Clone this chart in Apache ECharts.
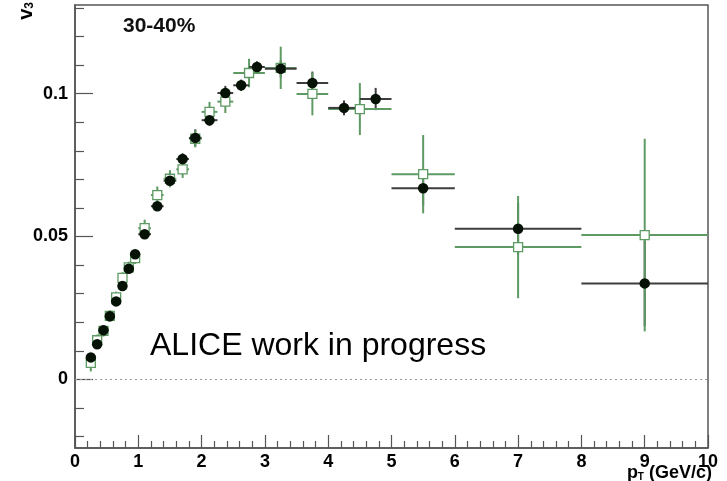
<!DOCTYPE html>
<html>
<head>
<meta charset="utf-8">
<script src="https://cdn.jsdelivr.net/npm/echarts@6/dist/echarts.min.js"></script>
<style>html,body{margin:0;padding:0;background:#fff;}#c{width:727px;height:481px;}</style>
</head>
<body>
<div id="c"></div>
<script>
// Black filled circles
var ptC  = [0.25,0.35,0.45,0.55,0.65,0.75,0.85,0.95,1.1,1.3,1.5,1.7,1.9,2.125,2.375,2.625,2.875,3.25,3.75,4.25,4.75,5.5,7.0,9.0];
var loC  = [0.2,0.3,0.4,0.5,0.6,0.7,0.8,0.9,1.0,1.2,1.4,1.6,1.8,2.0,2.25,2.5,2.75,3.0,3.5,4.0,4.5,5.0,6.0,8.0];
var hiC  = [0.3,0.4,0.5,0.6,0.7,0.8,0.9,1.0,1.2,1.4,1.6,1.8,2.0,2.25,2.5,2.75,3.0,3.5,4.0,4.5,5.0,6.0,8.0,10.0];
var v3C  = [0.0077,0.0123,0.0172,0.0221,0.0273,0.0327,0.0387,0.0438,0.0508,0.0606,0.0695,0.0771,0.0845,0.0907,0.1002,0.1029,0.1093,0.1087,0.1037,0.0950,0.0981,0.0669,0.0527,0.0336];
var errC = [0.001,0.001,0.001,0.001,0.001,0.001,0.001,0.001,0.0015,0.0015,0.0015,0.002,0.003,0.002,0.0025,0.002,0.002,0.003,0.004,0.0026,0.0039,0.006,0.009,0.015];

// Open green squares
var ptS  = [0.25,0.35,0.45,0.55,0.65,0.75,0.85,0.95,1.1,1.3,1.5,1.7,1.9,2.125,2.375,2.75,3.25,3.75,4.5,5.5,7.0,9.0];
var loS  = [0.2,0.3,0.4,0.5,0.6,0.7,0.8,0.9,1.0,1.2,1.4,1.6,1.8,2.0,2.25,2.5,3.0,3.5,4.0,5.0,6.0,8.0];
var hiS  = [0.3,0.4,0.5,0.6,0.7,0.8,0.9,1.0,1.2,1.4,1.6,1.8,2.0,2.25,2.5,3.0,3.5,4.0,5.0,6.0,8.0,10.0];
var v3S  = [0.0058,0.0137,0.0170,0.0222,0.0287,0.0355,0.0392,0.0424,0.0529,0.0645,0.0702,0.0735,0.0842,0.0936,0.0972,0.1072,0.1090,0.0999,0.0946,0.0718,0.0463,0.0505];
var errS = [0.003,0.002,0.002,0.002,0.002,0.002,0.002,0.002,0.003,0.003,0.003,0.003,0.003,0.0035,0.004,0.005,0.0074,0.0075,0.0091,0.0137,0.0179,0.0337];

var xTicks = [0,1,2,3,4,5,6,7,8,9,10];
var yMajor = [0,0.05,0.1];
var yMinor = [-0.02,-0.01,0.01,0.02,0.03,0.04,0.06,0.07,0.08,0.09,0.11,0.12,0.13];

var GREEN = '#5e9a63';
var DARK = '#3d3d3d';
var FONT = 'Liberation Sans, Arial, Helvetica, sans-serif';

function rows(pt, lo, hi, v, e){
  return pt.map(function(p,i){ return [p, v[i], lo[i], hi[i], e[i]]; });
}
function errRender(color, doH, doV){
  return function(params, api){
    var x = api.value(0), y = api.value(1), xl = api.value(2), xh = api.value(3), ye = api.value(4);
    var a = api.coord([xl, y]), b = api.coord([xh, y]);
    var c = api.coord([x, y - ye]), d = api.coord([x, y + ye]);
    var st = {stroke: color, lineWidth: 2};
    var ch = [];
    if (doH) ch.push({type:'line', shape:{x1:a[0],y1:a[1],x2:b[0],y2:b[1]}, style:st});
    if (doV) ch.push({type:'line', shape:{x1:c[0],y1:c[1],x2:d[0],y2:d[1]}, style:st});
    return {type:'group', children:ch};
  };
}

var chart = echarts.init(document.getElementById('c'), null, {renderer:'canvas'});
var axisLineStyle = {color:'#555', width:1.5};
chart.setOption({
  animation:false,
  backgroundColor:'#fff',
  grid:{left:75, right:19, top:5, bottom:33, show:true, borderColor:'#555', borderWidth:1.5, backgroundColor:'transparent'},
  xAxis:{
    type:'value', min:0, max:10, interval:1,
    axisLine:{show:true, onZero:false, lineStyle:axisLineStyle},
    axisTick:{show:true, inside:true, length:13, lineStyle:{color:'#555', width:1.2}},
    minorTick:{show:true, splitNumber:5, length:7, lineStyle:{color:'#555', width:1.2}},
    splitLine:{show:false},
    axisLabel:{show:true, margin:5, color:'#000', fontWeight:'bold', fontSize:18, fontFamily:FONT,
      customValues: xTicks, formatter:function(v){return String(v);}}
  },
  yAxis:[{
    type:'value', min:-0.024, max:0.131,
    axisLine:{show:true, onZero:false, lineStyle:axisLineStyle},
    axisTick:{show:true, inside:true, length:18, customValues:yMajor, lineStyle:{color:'#555', width:1.2}},
    splitLine:{show:false},
    axisLabel:{show:true, margin:7, color:'#000', fontWeight:'bold', fontSize:18, fontFamily:FONT,
      customValues:yMajor, formatter:function(v){return v===0?'0':String(v);}}
  },{
    type:'value', min:-0.024, max:0.131, position:'left',
    axisLine:{show:false},
    axisTick:{show:true, inside:true, length:9, customValues:yMinor, lineStyle:{color:'#555', width:1.2}},
    splitLine:{show:false},
    axisLabel:{show:false}
  }],
  series:[
    {type:'custom', name:'ciErrV', z:1, renderItem:errRender(DARK,false,true), data:rows(ptC,loC,hiC,v3C,errC),
      encode:{x:0,y:1},
      markLine:{silent:true, symbol:['none','none'], label:{show:false},
        lineStyle:{type:[2,3], color:'#9a9a9a', width:1}, data:[{yAxis:0}]}},
    {type:'custom', name:'sqErr', z:2, renderItem:errRender(GREEN,true,true), data:rows(ptS,loS,hiS,v3S,errS),
      encode:{x:0,y:1}},
    {type:'custom', name:'ciErrH', z:3, renderItem:errRender(DARK,true,false), data:rows(ptC,loC,hiC,v3C,errC),
      encode:{x:0,y:1}},
    {type:'scatter', name:'sq', z:4, symbol:'rect', symbolSize:9,
      itemStyle:{color:'#fff', borderColor:GREEN, borderWidth:1.3, opacity:1},
      data:ptS.map(function(p,i){return [p, v3S[i]];})},
    {type:'scatter', name:'ci', z:5, symbol:'circle', symbolSize:10.5,
      itemStyle:{color:'#061206', opacity:1},
      data:ptC.map(function(p,i){return [p, v3C[i]];})}
  ],
  graphic:[
    {type:'text', left:123, top:16, z:10, style:{text:'30-40%', font:'bold 21px '+FONT, fill:'#111'}},
    {type:'text', x:150, y:346, z:10, style:{text:'ALICE work in progress', font:'32px '+FONT, fill:'#000', verticalAlign:'middle', align:'left'}},
    {type:'text', x:712, y:473, z:10, style:{
      text:'{a|p}{s|T}{a| (GeV/c)}', align:'right', verticalAlign:'middle',
      rich:{a:{font:'bold 18px '+FONT, fill:'#000'}, s:{font:'bold 10px '+FONT, fill:'#000', padding:[8,0,0,0]}}}},
    {type:'text', x:26, y:2, rotation:Math.PI/2, z:10, style:{
      text:'{a|v}{s|3}', align:'right', verticalAlign:'middle',
      rich:{a:{font:'bold 20px '+FONT, fill:'#000'}, s:{font:'bold 12px '+FONT, fill:'#000', padding:[8,0,0,0]}}}}
  ]
});
</script>
</body>
</html>
